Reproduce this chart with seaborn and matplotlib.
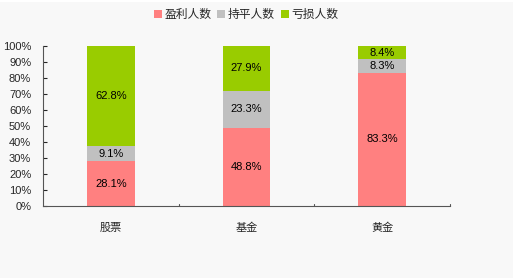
import numpy as np
import pandas as pd
import matplotlib
matplotlib.use("Agg")
import matplotlib.pyplot as plt
import seaborn as sns
from matplotlib.patches import Rectangle, Patch

categories = ["股票", "基金", "黄金"]
series = ["盈利人数", "持平人数", "亏损人数"]
profit = [28.1, 48.8, 83.3]
flat = [9.1, 23.3, 8.3]
loss = [62.8, 27.9, 8.4]
yticks = [0, 10, 20, 30, 40, 50, 60, 70, 80, 90, 100]
colors = ["#ff8080", "#c0c0c0", "#99cc00"]

sns.set_style("white")
plt.rcParams["font.family"] = ["Liberation Sans", "Noto Sans CJK SC", "DejaVu Sans"]

fig = plt.figure(figsize=(5.22, 2.78), dpi=100, facecolor="white")
fig.patches.append(Rectangle((0, 0), 513 / 522, 1 - 2 / 278, transform=fig.transFigure,
                             facecolor="#f8f8f8", edgecolor="none", zorder=-10))
ax = fig.add_axes([43 / 522, 1 - 206 / 278, 407 / 522, 160 / 278])
ax.set_facecolor("none")

vals = np.array([profit, flat, loss])
tops = vals.cumsum(axis=0)
bottoms = tops - vals
# draw from top layer downwards so lower layers cover the upper stacks
for i in [2, 1, 0]:
    df = pd.DataFrame({"cat": categories, "v": tops[i]})
    sns.barplot(data=df, x="cat", y="v", color=colors[i], width=0.35,
                saturation=1, ax=ax, linewidth=0, order=categories)

for i in range(3):
    for j in range(3):
        ax.text(j, bottoms[i, j] + vals[i, j] / 2, f"{vals[i, j]:.1f}%",
                ha="center", va="center", fontsize=8, color="black")

ax.set_xlim(-0.5, 2.5)
ax.set_ylim(0, 100)
ax.set_yticks(yticks)
ax.set_yticklabels([f"{t}%" for t in yticks], fontsize=8)
ax.set_xticks(range(3))
ax.set_xticklabels(categories, fontsize=8)
ax.tick_params(axis="x", length=0, pad=12)
ax.tick_params(axis="y", length=3, direction="in", pad=8.5, left=True)
for x in [0.5, 1.5, 2.5]:
    ax.plot([x, x], [0, 1.5], color="#555555", lw=0.8, clip_on=False)
ax.set_xlabel("")
ax.set_ylabel("")
for s in ["top", "right"]:
    ax.spines[s].set_visible(False)
for s in ["left", "bottom"]:
    ax.spines[s].set_color("#555555")
    ax.spines[s].set_linewidth(0.8)

handles = [Patch(facecolor=c, edgecolor="none") for c in colors]
fig.legend(handles, series, loc="center", bbox_to_anchor=(246 / 522, 1 - 15 / 278),
           ncol=3, frameon=False, fontsize=8.5, handlelength=0.7, handleheight=0.7,
           handletextpad=0.2, columnspacing=0.5)

fig.savefig("out.png", dpi=100, facecolor=fig.get_facecolor())
